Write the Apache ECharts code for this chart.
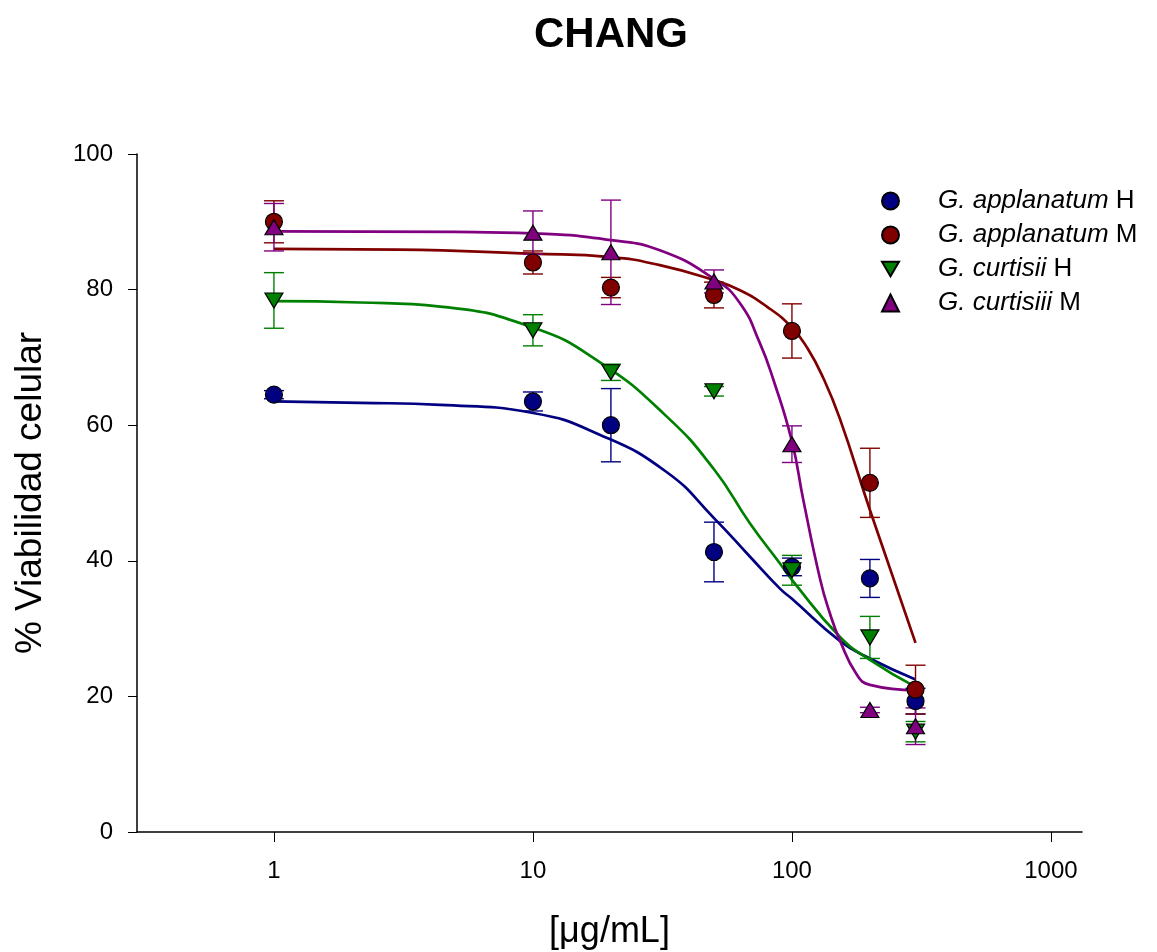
<!DOCTYPE html>
<html>
<head>
<meta charset="utf-8">
<script src="https://cdn.jsdelivr.net/npm/echarts@6/dist/echarts.min.js"></script>
<style>html,body{margin:0;padding:0;background:#fff}#c{width:1157px;height:952px}</style>
</head>
<body>
<div id="c"></div>
<script>
// ---- data ----
const concentrations = [1, 10, 20, 50, 100, 200, 300];
const xTickValues = [1, 10, 100, 1000];
const yTickValues = [0, 20, 40, 60, 80, 100];

const seriesNames = ['G. applanatum H', 'G. applanatum M', 'G. curtisii H', 'G. curtisiii M'];

const aH_mean = [64.5, 63.5, 60.0, 41.3, 39.1, 37.4, 19.3];
const aH_err  = [0.6, 1.4, 5.4, 4.4, 1.3, 2.8, 1.9];
const aM_mean = [90.0, 84.0, 80.3, 79.2, 73.9, 51.5, 21.0];
const aM_err  = [3.1, 1.7, 1.5, 1.9, 4.0, 5.1, 3.6];
const cH_mean = [78.4, 74.0, 67.8, 65.0, 38.6, 28.7, 14.8];
const cH_err  = [4.1, 2.3, 1.2, 0.7, 2.2, 3.1, 1.5];
const cM_mean = [89.2, 88.4, 85.5, 81.2, 57.2, 18.0, 15.6];
const cM_err  = [3.5, 3.2, 7.7, 1.7, 2.7, 0.4, 2.7];

// fitted curves
const aH_fitX = [1, 2.15, 4.38, 10, 18.1, 32.8, 50, 68.9, 89.9, 100, 153, 200, 300];
const aH_fitY = [63.5, 63.3, 63.0, 61.8, 58.6, 53.1, 46.3, 40.6, 35.9, 34.4, 28.2, 25.6, 22.5];
const aM_fitX = [1, 3, 10, 20, 30.9, 50, 63, 80, 100, 115, 132, 153, 200, 300];
const aM_fitY = [86.0, 85.9, 85.3, 84.8, 83.6, 81.4, 79.9, 77.5, 74.4, 71.3, 67.0, 61.0, 47.5, 27.9];
const cH_fitX = [1, 2.15, 4.38, 10, 18.1, 32.8, 50, 68.9, 89.9, 100, 153, 200, 300];
const cH_fitY = [78.3, 78.1, 77.5, 74.4, 69.3, 61.3, 53.5, 45.5, 39.6, 37.2, 28.8, 25.4, 21.4];
const cM_fitX = [1, 5, 10, 20, 30.9, 50, 63, 75.2, 84.8, 100, 110.6, 128.6, 140, 153, 177.4, 200, 300];
const cM_fitY = [88.6, 88.5, 88.3, 87.3, 85.8, 81.6, 78.0, 72.1, 66.7, 57.6, 49.0, 37.2, 32.3, 28.3, 23.3, 21.7, 20.9];

const colors = ['#000080', '#800000', '#008000', '#800080'];
const FONT = '"Liberation Sans", Arial, sans-serif';

const groups = [
  {name: seriesNames[0], mean: aH_mean, err: aH_err, fx: aH_fitX, fy: aH_fitY, symbol: 'circle', size: 17},
  {name: seriesNames[1], mean: aM_mean, err: aM_err, fx: aM_fitX, fy: aM_fitY, symbol: 'circle', size: 17},
  {name: seriesNames[2], mean: cH_mean, err: cH_err, fx: cH_fitX, fy: cH_fitY, symbol: 'path://M0,0L20,0L10,17Z', size: [18, 15]},
  {name: seriesNames[3], mean: cM_mean, err: cM_err, fx: cM_fitX, fy: cM_fitY, symbol: 'triangle', size: [18, 15]}
];

const series = [];
groups.forEach((g, i) => {
  series.push({
    name: 'fit ' + i, type: 'line', showSymbol: false, silent: true,
    data: g.fx.map((x, k) => [x, g.fy[k]]),
    smooth: 0.5,
    lineStyle: {color: colors[i], width: 2.7}, z: 2
  });
});
groups.forEach((g, i) => {
  const col = colors[i];
  series.push({
    name: 'err ' + i, type: 'custom', silent: true, z: 3,
    data: concentrations.map((x, k) => [x, g.mean[k] - g.err[k], g.mean[k] + g.err[k]]),
    encode: {x: 0, y: [1, 2]},
    renderItem: function (params, api) {
      const x = api.value(0);
      const top = api.coord([x, api.value(2)]);
      const bot = api.coord([x, api.value(1)]);
      const w = 10;
      const st = {stroke: col, lineWidth: 1.4};
      return {type: 'group', children: [
        {type: 'line', shape: {x1: top[0], y1: top[1], x2: bot[0], y2: bot[1]}, style: st},
        {type: 'line', shape: {x1: top[0] - w, y1: top[1], x2: top[0] + w, y2: top[1]}, style: st},
        {type: 'line', shape: {x1: bot[0] - w, y1: bot[1], x2: bot[0] + w, y2: bot[1]}, style: st}
      ]};
    }
  });
  series.push({
    name: g.name, type: 'scatter', z: 3,
    symbol: g.symbol, symbolSize: g.size,
    data: concentrations.map((x, k) => [x, g.mean[k]]),
    itemStyle: {color: col, borderColor: '#000', borderWidth: 1.2, opacity: 1}
  });
});

const chart = echarts.init(document.getElementById('c'), null, {renderer: 'canvas'});
chart.setOption({
  animation: false,
  backgroundColor: '#fff',
  title: {
    text: 'CHANG', left: 606, top: 9, textAlign: 'center',
    textStyle: {fontFamily: FONT, fontSize: 42, fontWeight: 'bold', color: '#000'}
  },
  grid: {left: 137, right: 75, top: 154, bottom: 120, containLabel: false, outerBoundsMode: 'none'},
  legend: {
    data: seriesNames, orient: 'vertical', left: 881, top: 188, padding: 0,
    itemWidth: 17, itemHeight: 17, itemGap: 8, selectedMode: false,
    formatter: function (name) {
      const parts = name.split(' ');
      const last = parts.pop();
      return '{i|' + parts.join(' ') + '} ' + last;
    },
    textStyle: {
      fontFamily: FONT, fontSize: 26, color: '#000', padding: [0, 0, 0, 34],
      rich: {i: {fontFamily: FONT, fontSize: 26, fontStyle: 'italic', color: '#000'}}
    }
  },
  xAxis: {
    type: 'log', logBase: 10, min: 0.296, max: 1318,
    name: '[μg/mL]', nameLocation: 'middle', nameGap: 82,
    nameTextStyle: {fontFamily: FONT, fontSize: 36, color: '#000'},
    axisLine: {lineStyle: {color: '#000', width: 1.5}},
    axisTick: {show: true, length: 10, customValues: xTickValues, lineStyle: {color: '#000', width: 1}},
    axisLabel: {customValues: xTickValues, margin: 27, fontFamily: FONT, fontSize: 24, color: '#000',
      formatter: v => String(Math.round(v))},
    splitLine: {show: false}, minorTick: {show: false}
  },
  yAxis: {
    type: 'value', min: 0, max: 100, interval: 20,
    name: '% Viabilidad celular', nameLocation: 'middle', nameGap: 88,
    nameTextStyle: {fontFamily: FONT, fontSize: 37, color: '#000'},
    axisLine: {show: true, lineStyle: {color: '#000', width: 1.5}},
    axisTick: {show: true, length: 9, lineStyle: {color: '#000', width: 1}},
    axisLabel: {margin: 24, fontFamily: FONT, fontSize: 24, color: '#000'},
    splitLine: {show: false}
  },
  series: series
});
</script>
</body>
</html>
